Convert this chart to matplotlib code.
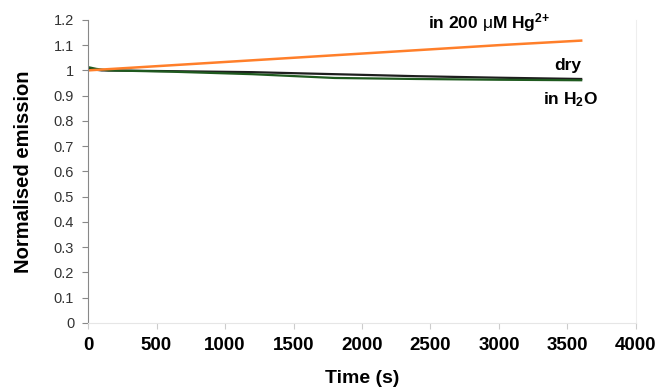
import matplotlib.pyplot as plt

plt.rcParams['font.family'] = ['Liberation Sans', 'DejaVu Sans']
plt.rcParams['mathtext.fontset'] = 'custom'
plt.rcParams['mathtext.rm'] = 'Liberation Sans'
plt.rcParams['mathtext.it'] = 'Liberation Sans:italic'
plt.rcParams['mathtext.bf'] = 'Liberation Sans:bold'

# time points (s) and normalised emission
t_hg = [0, 600, 1200, 1800, 2400, 3000, 3600]
hg = [1.000, 1.020, 1.040, 1.060, 1.080, 1.100, 1.118]

t_dry = [0, 100, 600, 1200, 1800, 2400, 3000, 3600]
dry = [1.006, 1.000, 0.997, 0.993, 0.985, 0.977, 0.971, 0.966]

t_h2o = [0, 60, 150, 600, 1200, 1800, 2400, 3000, 3600]
h2o = [1.013, 1.006, 1.000, 0.995, 0.985, 0.970, 0.966, 0.963, 0.961]

fig = plt.figure(figsize=(6.57, 3.9), dpi=100)
ax = fig.add_axes([0.134, 0.172, 0.834, 0.777])

ax.plot(t_dry, dry, color='#1e1e1e', lw=1.6)
ax.plot(t_h2o, h2o, color='#1f5a1f', lw=1.6)
ax.plot(t_hg, hg, color='#ff7f2a', lw=1.8)

ax.set_xlim(0, 4000)
ax.set_ylim(0, 1.2)
ax.set_xticks(range(0, 4001, 500))
yt = [i / 10 for i in range(13)]
ax.set_yticks(yt)
ax.set_yticklabels(['0', '0.1', '0.2', '0.3', '0.4', '0.5', '0.6', '0.7', '0.8', '0.9', '1', '1.1', '1.2'])

ax.tick_params(axis='y', labelsize=10.5, colors='#888888', labelcolor='#333333', length=4, pad=6)
ax.tick_params(axis='x', labelsize=13.5, colors='#cccccc', labelcolor='black', length=4, pad=6)
for lab in ax.get_xticklabels():
    lab.set_fontweight('bold')

ax.spines['top'].set_visible(False)
ax.spines['left'].set_color('#888888')
ax.spines['bottom'].set_color('#e6e6e6')
ax.spines['right'].set_color('#eeeeee')

ax.set_xlabel('Time (s)', fontsize=14, fontweight='bold', labelpad=12)
ax.set_ylabel('Normalised emission', fontsize=14.5, fontweight='bold', labelpad=15)

ax.text(2480, 1.19, 'in 200 $\\mathrm{\\mu}$M Hg$^{\\mathbf{2{+}}}$', fontsize=12.5, fontweight='bold', va='center')
ax.text(3600, 1.02, 'dry', fontsize=12.5, fontweight='bold', ha='right', va='center')
ax.text(3320, 0.883, 'in H$_\\mathbf{2}$O', fontsize=12.5, fontweight='bold', va='center')

fig.savefig('out.png', dpi=100)
